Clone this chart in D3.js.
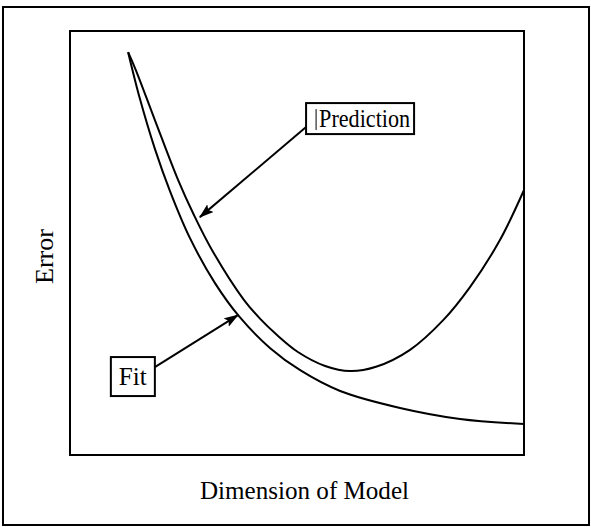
<!DOCTYPE html>
<html>
<head>
<meta charset="utf-8">
<script src="https://cdn.jsdelivr.net/npm/d3@7"></script>
<style>
  body { margin: 0; background: #fff; }
  svg { display: block; }
  text { font-family: "Liberation Serif", "DejaVu Serif", serif; fill: #000; }
</style>
</head>
<body>
<svg id="chart" width="591" height="527"></svg>
<script>
// Model dimension (x) and error (y) for the two curves, in axis units 0..10
const fitDim   = [1.28, 1.54, 1.87, 2.20, 2.64, 3.19, 3.74, 4.41, 5.07, 5.95, 7.27, 8.59, 10.0];
const fitErr   = [9.50, 8.40, 7.22, 6.23, 5.12, 4.06, 3.25, 2.52, 2.00, 1.51, 1.11, 0.85, 0.73];
const predDim  = [1.28, 1.45, 1.87, 2.38, 2.73, 3.13, 3.83, 4.19, 4.56, 5.02, 5.62, 6.17, 6.74, 7.49, 8.22, 8.81, 9.47, 10.0];
const predErr  = [9.50, 9.08, 7.90, 6.49, 5.66, 4.83, 3.66, 3.21, 2.83, 2.43, 2.10, 1.98, 2.08, 2.48, 3.18, 3.96, 5.07, 6.25];

// Annotation labels: text, box corner (left, top) and arrow tip, in axis units
const labelText  = ["Prediction", "Fit"];
const labelLeft  = [5.20, 0.90];
const labelTop   = [8.30, 2.31];
const arrowTipX  = [2.86, 3.70];
const arrowTipY  = [5.61, 3.30];

const axisTitleX = "Dimension of Model";
const axisTitleY = "Error";

// drawing layout for each label box (pixels)
const labelLayout = [
  { w: 108, h: 31, textDx: 13, baseline: 24, textLen: 91, startDy: 24, side: "left", caret: true },
  { w: 44,  h: 39, textDx: 8,  baseline: 28, textLen: 28, startDy: 10, side: "right", caret: false }
];

const svg = d3.select("#chart");
const W = 591, H = 527;
const plot = { left: 70, right: 524, top: 31, bottom: 455 };

const x = d3.scaleLinear().domain([0, 10]).range([plot.left, plot.right]);
const y = d3.scaleLinear().domain([0, 10]).range([plot.bottom, plot.top]);

// outer frame
svg.append("rect")
  .attr("x", 3).attr("y", 7).attr("width", W - 5).attr("height", H - 9)
  .attr("fill", "none").attr("stroke", "#000").attr("stroke-width", 2);

// plot frame
svg.append("rect")
  .attr("x", plot.left).attr("y", plot.top)
  .attr("width", plot.right - plot.left).attr("height", plot.bottom - plot.top)
  .attr("fill", "none").attr("stroke", "#000").attr("stroke-width", 2);

const line = d3.line()
  .x(d => x(d[0])).y(d => y(d[1]))
  .curve(d3.curveCatmullRom.alpha(0.5));

const series = [
  d3.zip(fitDim, fitErr),
  d3.zip(predDim, predErr)
];

svg.append("g").selectAll("path").data(series).join("path")
  .attr("d", line)
  .attr("fill", "none").attr("stroke", "#000").attr("stroke-width", 2)
  .attr("stroke-linejoin", "round");

// arrowhead
svg.append("defs").append("marker")
  .attr("id", "head")
  .attr("markerUnits", "userSpaceOnUse")
  .attr("viewBox", "0 0 15 10")
  .attr("refX", 14).attr("refY", 5)
  .attr("markerWidth", 15).attr("markerHeight", 10)
  .attr("orient", "auto")
  .append("path").attr("d", "M0,0 L15,5 L0,10 L3,5 Z").attr("fill", "#000");

// labels with boxes and arrows
labelText.forEach((t, i) => {
  const L = labelLayout[i];
  const g = svg.append("g");
  const tx = x(labelLeft[i]), ty = y(labelTop[i]);
  g.append("rect")
    .attr("x", tx).attr("y", ty).attr("width", L.w).attr("height", L.h)
    .attr("fill", "#fff").attr("stroke", "#000").attr("stroke-width", 2);
  if (L.caret) {
    g.append("line")
      .attr("x1", tx + 10).attr("x2", tx + 10)
      .attr("y1", ty + 6).attr("y2", ty + L.h - 4)
      .attr("stroke", "#000").attr("stroke-width", 1);
  }
  g.append("text")
    .attr("x", tx + L.textDx).attr("y", ty + L.baseline)
    .attr("font-size", 25)
    .attr("textLength", L.textLen).attr("lengthAdjust", "spacingAndGlyphs")
    .text(t);
  const startX = L.side === "left" ? tx : tx + L.w;
  svg.append("line")
    .attr("x1", startX).attr("y1", ty + L.startDy)
    .attr("x2", x(arrowTipX[i])).attr("y2", y(arrowTipY[i]))
    .attr("stroke", "#000").attr("stroke-width", 2)
    .attr("marker-end", "url(#head)");
});

// axis titles
svg.append("text")
  .attr("x", 200).attr("y", 499)
  .attr("font-size", 26)
  .attr("textLength", 209).attr("lengthAdjust", "spacingAndGlyphs")
  .text(axisTitleX);

svg.append("text")
  .attr("transform", "translate(53,284) rotate(-90)")
  .attr("font-size", 26)
  .attr("textLength", 55).attr("lengthAdjust", "spacingAndGlyphs")
  .text(axisTitleY);
</script>
</body>
</html>
